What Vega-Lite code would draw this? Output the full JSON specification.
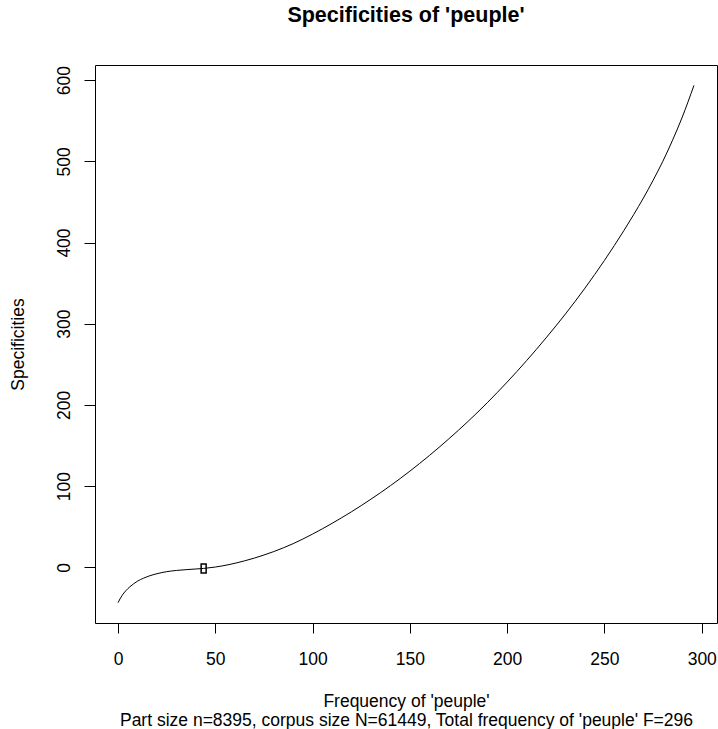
{
  "$schema": "https://vega.github.io/schema/vega-lite/v6.json",
  "autosize": "none",
  "width": 622,
  "height": 558,
  "padding": {"left": 95, "top": 65, "right": 1, "bottom": 106},
  "background": "white",
  "config": {
    "view": {"stroke": "black", "strokeWidth": 1},
    "font": "Liberation Sans",
    "axis": {"grid": false, "domain": false, "tickColor": "black", "tickSize": 10, "labelColor": "black", "titleColor": "black", "labelFont": "Liberation Sans", "titleFont": "Liberation Sans", "labelFontSize": 17.5, "titleFontSize": 17.5, "titleFontWeight": "normal"}
  },
  "title": {"text": "Specificities of 'peuple'", "anchor": "middle", "font": "Liberation Sans", "fontSize": 21.5, "fontWeight": "bold", "color": "black", "baseline": "alphabetic", "offset": 22},
  "datasets": {
    "curve": [
      {"f": 0, "spec": -43.5}, {"f": 1, "spec": -38.9}, {"f": 2, "spec": -34.9}, {"f": 3, "spec": -31.6},
      {"f": 4, "spec": -28.8}, {"f": 5, "spec": -26.3}, {"f": 6, "spec": -24.1}, {"f": 8, "spec": -20.2},
      {"f": 10, "spec": -17.0}, {"f": 13, "spec": -13.4}, {"f": 16, "spec": -10.6}, {"f": 20, "spec": -7.8},
      {"f": 25, "spec": -5.3}, {"f": 30, "spec": -3.8}, {"f": 35, "spec": -2.8}, {"f": 40, "spec": -2.0},
      {"f": 44, "spec": -1.3}, {"f": 50, "spec": 0.4}, {"f": 57, "spec": 3.4}, {"f": 65, "spec": 8.0},
      {"f": 75, "spec": 15.2}, {"f": 85, "spec": 24.1}, {"f": 90, "spec": 29.2}, {"f": 95, "spec": 34.9},
      {"f": 100, "spec": 41.0}, {"f": 110, "spec": 54.2}, {"f": 120, "spec": 68.5}, {"f": 130, "spec": 84.0},
      {"f": 140, "spec": 100.6}, {"f": 150, "spec": 118.5}, {"f": 160, "spec": 137.7}, {"f": 170, "spec": 158.2},
      {"f": 180, "spec": 180.0}, {"f": 190, "spec": 203.3}, {"f": 200, "spec": 228.2}, {"f": 210, "spec": 254.6},
      {"f": 220, "spec": 282.6}, {"f": 230, "spec": 312.2}, {"f": 240, "spec": 343.9}, {"f": 250, "spec": 378.0},
      {"f": 260, "spec": 414.8}, {"f": 265, "spec": 434.3}, {"f": 270, "spec": 454.7}, {"f": 275, "spec": 476.6},
      {"f": 280, "spec": 500.0}, {"f": 285, "spec": 526.0}, {"f": 290, "spec": 554.5}, {"f": 296, "spec": 593.5}
    ],
    "marker": [{"f": 44, "spec": -1.5}]
  },
  "layer": [
    {
      "data": {"name": "curve"},
      "mark": {"type": "line", "color": "black", "strokeWidth": 1, "interpolate": "monotone"},
      "encoding": {
        "x": {"field": "f", "type": "quantitative", "scale": {"domain": [-11.84, 307.84], "nice": false, "zero": false},
          "axis": {"values": [0, 50, 100, 150, 200, 250, 300], "labelBaseline": "alphabetic", "labelPadding": 31,
            "title": ["Frequency of 'peuple'", "Part size n=8395, corpus size N=61449, Total frequency of 'peuple' F=296"],
            "titleBaseline": "alphabetic", "titleY": 83, "titleLineHeight": 19}},
        "y": {"field": "spec", "type": "quantitative", "scale": {"domain": [-68.5, 618.6], "nice": false, "zero": false},
          "axis": {"values": [0, 100, 200, 300, 400, 500, 600], "labelAngle": -90, "labelAlign": "center", "labelBaseline": "alphabetic", "labelPadding": 15, "tickSize": 11,
            "title": "Specificities", "titleAngle": -90, "titleAlign": "center", "titleBaseline": "middle", "titleX": -77, "titleY": 279}}
      }
    },
    {
      "data": {"name": "marker"},
      "mark": {"type": "point", "shape": "M-0.5,-0.9L0.5,-0.9L0.5,0.9L-0.5,0.9Z", "size": 100, "filled": false, "stroke": "black", "strokeWidth": 1.5, "opacity": 1},
      "encoding": {
        "x": {"field": "f", "type": "quantitative"},
        "y": {"field": "spec", "type": "quantitative"}
      }
    }
  ]
}
